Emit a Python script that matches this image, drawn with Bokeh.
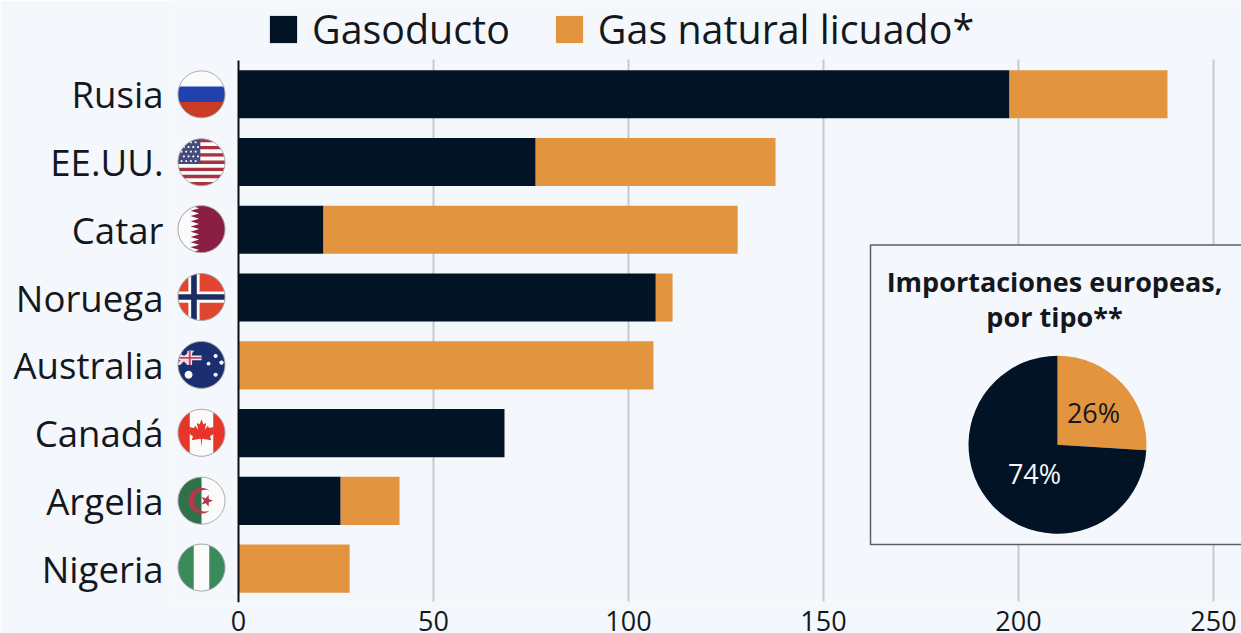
import math
from bokeh.plotting import figure
from bokeh.embed import file_html
from bokeh.resources import INLINE
from bokeh.core.properties import value
from bokeh.models import ColumnDataSource, Range1d, FixedTicker, Legend, LegendItem

# ---- data ----
countries = ["Rusia", "EE.UU.", "Catar", "Noruega", "Australia", "Canadá", "Argelia", "Nigeria"]
pipeline = [197.7, 76.2, 21.8, 107.0, 0, 68.2, 26.2, 0]
lng = [40.5, 61.5, 106.2, 4.3, 106.4, 0, 15.1, 28.5]
x_ticks = [0, 50, 100, 150, 200, 250]
series_names = ["Gasoducto", "Gas natural licuado*"]
pie_labels = ["74%", "26%"]
pie_values = [74, 26]
inset_title = ["Importaciones europeas,", "por tipo**"]

NAVY, ORANGE, BG, GRID, INK = "#031326", "#E3943F", "#F4F8FC", "#C6CACF", "#14181E"
FONT = "Open Sans"
W, H = 1241, 633
ZERO = 238                      # page x of value 0
FL, FR, FT, FB = 170, 1241, 0, 603   # plot frame on the page
PPU = 3.9                       # px per unit on x
STEP = 67.875                   # px per row
n = len(countries)
rows = [n - 0.5 - i for i in range(n)]

# layout helpers: page pixels to data coordinates, for decoration only
def X(v):
    return (v - ZERO) / PPU

def Y(v):
    return (FB - v) / STEP

p = figure(width=W, height=H, output_backend="svg", toolbar_location=None,
           x_range=Range1d(X(FL), X(FR)), y_range=Range1d(Y(FB), Y(FT)),
           min_border_left=FL, min_border_right=W - FR, min_border_top=FT, min_border_bottom=H - FB,
           background_fill_color=BG, border_fill_color=BG, outline_line_color=None)
p.styles = {"position": "absolute", "left": "0", "top": "0"}

# gridlines stop short of the legend, so they are drawn from the ticks
p.segment(x0=x_ticks[1:], x1=x_ticks[1:], y0=[Y(602)] * 5, y1=[Y(59)] * 5, line_color=GRID, line_width=2)

src = ColumnDataSource(dict(row=rows, pipeline=pipeline, lng=lng))
bars = p.hbar_stack(["pipeline", "lng"], y="row", height=0.71, color=[NAVY, ORANGE],
                    line_color=None, source=src)
p.segment(x0=[0], x1=[0], y0=[0], y1=[n], line_color="#0B0F14", line_width=2)

# axes
p.grid.visible = False
p.xaxis.ticker = FixedTicker(ticks=x_ticks)
p.xaxis.axis_line_color = None
p.xaxis.major_tick_line_color = None
p.xaxis.minor_tick_line_color = None
p.xaxis.major_tick_out = 0
p.xaxis.major_label_text_font = FONT
p.xaxis.major_label_text_font_size = "27px"
p.xaxis.major_label_text_color = INK
p.xaxis.major_label_standoff = 8
p.yaxis.ticker = FixedTicker(ticks=rows)
p.yaxis.major_label_overrides = dict(zip(rows, countries))
p.yaxis.axis_line_color = None
p.yaxis.major_tick_line_color = None
p.yaxis.minor_tick_line_color = None
p.yaxis.major_tick_out = 0
p.yaxis.major_label_text_font = FONT
p.yaxis.major_label_text_font_size = "36.6px"
p.yaxis.major_label_text_color = INK
p.yaxis.major_label_standoff = 7

# legend
legend = Legend(items=[LegendItem(label=series_names[i], renderers=[bars[i]]) for i in range(2)],
                orientation="horizontal", location=(96, FB - 57), background_fill_alpha=0,
                border_line_color=None, padding=0, margin=0, spacing=42, label_standoff=12,
                glyph_width=34, glyph_height=34, label_text_font=FONT,
                label_text_font_size="39.4px", label_text_color=INK, label_height=40)
p.add_layout(legend, "center")

# inset panel
p.quad(left=[X(870)], right=[X(1270)], top=[Y(245)], bottom=[Y(545)], fill_color=BG, line_color="#5A5F64",
       line_width=1.5)
p.text(x=[X(1054), X(1054)], y=[Y(281), Y(317)], text=inset_title, text_font=value(FONT),
       text_font_size="27px", text_font_style="bold", text_align="center", text_baseline="middle",
       text_color=INK)
total = sum(pie_values)
a26 = 2 * math.pi * pie_values[1] / total
p.wedge(x=[X(1057)] * 2, y=[Y(445)] * 2, radius=89, radius_units="screen",
        start_angle=[math.pi / 2 - a26, math.pi / 2],
        end_angle=[math.pi / 2, math.pi / 2 - a26 + 2 * math.pi],
        fill_color=[ORANGE, NAVY], line_color=None)
p.text(x=[X(1034), X(1093)], y=[Y(474), Y(413)], text=pie_labels, text_font=value(FONT), text_font_size="27px",
       text_align="center", text_baseline="middle", text_color=["#F4F8FC", INK])

# flags: convex pieces of a unit disc, painted in order
DISC = [(math.cos(i * math.pi / 48), math.sin(i * math.pi / 48)) for i in range(96)]

def hp(poly, a, b, c):
    out = []
    m = len(poly)
    for i in range(m):
        P, Q = poly[i], poly[(i + 1) % m]
        dp, dq = a * P[0] + b * P[1] - c, a * Q[0] + b * Q[1] - c
        if dp <= 0:
            out.append(P)
        if dp * dq < 0:
            t = dp / (dp - dq)
            out.append((P[0] + t * (Q[0] - P[0]), P[1] + t * (Q[1] - P[1])))
    return out

def clip(poly, planes):
    for a, b, c in planes:
        poly = hp(poly, a, b, c)
    return poly

def rect(u0, u1, v0, v1):
    return clip(DISC, [(-1, 0, -u0), (1, 0, u1), (0, -1, -v0), (0, 1, v1)])

def dot(u, v, r):
    return [(u + r * a, v + r * b) for a, b in DISC[::8]]

def star(u, v, r):
    return [(u + (r if i % 2 == 0 else r * .42) * math.cos(i * math.pi / 5),
             v + (r if i % 2 == 0 else r * .42) * math.sin(i * math.pi / 5)) for i in range(10)]

def draw(cy, shapes, cx=201, r=23.5, ring="#A8A8A8"):
    shapes = [s for s in shapes if len(s[0]) >= 3]
    p.patches(xs=[[X(cx + r * a) for a, b in s[0]] for s in shapes],
              ys=[[Y(cy + r * b) for a, b in s[0]] for s in shapes],
              fill_color=[s[1] for s in shapes], line_color=None)
    p.patch(x=[X(cx + r * a) for a, b in DISC + DISC[:1]], y=[Y(cy + r * b) for a, b in DISC + DISC[:1]],
            fill_alpha=0, line_color=ring, line_width=1)

W_ = "#FBFBFB"

draw(94, [(rect(-1, 1, -1, -.33), W_), (rect(-1, 1, -.33, .33), "#2141AE"), (rect(-1, 1, .33, 1), "#C93B22")])

us = [(rect(-1, 1, -1 + i * 2 / 13, -1 + (i + 1) * 2 / 13), "#A8323F" if i % 2 == 0 else W_) for i in range(13)]
us.append((rect(-1, -.05, -1, .08), "#424A7E"))
us += [(dot(-.85 + .2 * i + (.1 if j % 2 else 0), -.85 + .2 * j, .045), W_)
       for j in range(5) for i in range(4)]
draw(162, us)

qa = [(DISC, "#8A1F43"), (rect(-1, -.45, -1, 1), W_)]
for i in range(9):
    v0 = -1 + i * 2 / 9
    qa.append(([(-.46, v0), (-.1, v0 + 1 / 9), (-.46, v0 + 2 / 9)], W_))
draw(229, qa)

draw(297, [(DISC, "#E0452F"),
           (rect(-.56, -.08, -1, 1), W_), (rect(-1, 1, -.24, .24), W_),
           (rect(-.44, -.2, -1, 1), "#1B2E63"), (rect(-1, 1, -.12, .12), "#1B2E63")])

canton = [(1, 0, 0), (0, 1, 0), (0, -1, .6)]
au = [(DISC, "#1B2F70"),
      (clip(DISC, canton + [(1, -1, -.4), (-1, 1, .6)]), "#F1D5DA"),
      (clip(DISC, canton + [(1, 1, -.9), (-1, -1, 1.1)]), "#F1D5DA"),
      (clip(DISC, canton + [(0, 1, -.2), (0, -1, .4)]), "#F6E4E8"),
      (clip(DISC, canton + [(1, 0, -.4), (-1, 0, .6)]), "#F6E4E8"),
      (clip(DISC, canton + [(0, 1, -.26), (0, -1, .34)]), "#C5475F"),
      (clip(DISC, canton + [(1, 0, -.46), (-1, 0, .54)]), "#C5475F"),
      (dot(-.55, .42, .17), W_), (dot(.6, -.38, .09), W_), (dot(.85, -.1, .09), W_),
      (dot(.3, -.05, .08), W_), (dot(.6, .42, .09), W_)]
draw(365, au)

leaf = [(0, .62), (-.03, .25), (-.42, .32), (-.36, .16), (-.6, -.02), (-.5, -.08), (-.54, -.25), (-.32, -.2),
        (-.27, -.3), (-.14, -.13), (-.2, -.42), (-.08, -.36), (0, -.58), (.08, -.36), (.2, -.42), (.14, -.13),
        (.27, -.3), (.32, -.2), (.54, -.25), (.5, -.08), (.6, -.02), (.36, .16), (.42, .32), (.03, .25)]
draw(433, [(DISC, "#E8352A"), (rect(-.5, .5, -1, 1), W_), (leaf, "#E8352A")], ring="#B5A5A5")

cres = [(.55 * math.cos(t), .55 * math.sin(t)) for t in [math.radians(50 + d * 13) for d in range(21)]]
ix0, iy0 = .16, 0
end0 = math.atan2(cres[-1][1] - iy0, cres[-1][0] - ix0)
start0 = math.atan2(cres[0][1] - iy0, cres[0][0] - ix0)
end0 = end0 + 2 * math.pi if end0 < start0 else end0
rad = math.hypot(cres[0][0] - ix0, cres[0][1] - iy0)
inner = [(ix0 + rad * math.cos(end0 + (start0 - end0) * i / 20), iy0 + rad * math.sin(end0 + (start0 - end0) * i / 20))
         for i in range(21)]
draw(501, [(DISC, W_), (rect(-1, 0, -1, 1), "#2F7148"), (cres + inner, "#B8374A"), (star(.22, 0, .27), "#B8374A")])

draw(568, [(DISC, "#3B8A5C"), (rect(-.33, .33, -1, 1), W_)])

open("out.html", "w").write(file_html(p, INLINE))
